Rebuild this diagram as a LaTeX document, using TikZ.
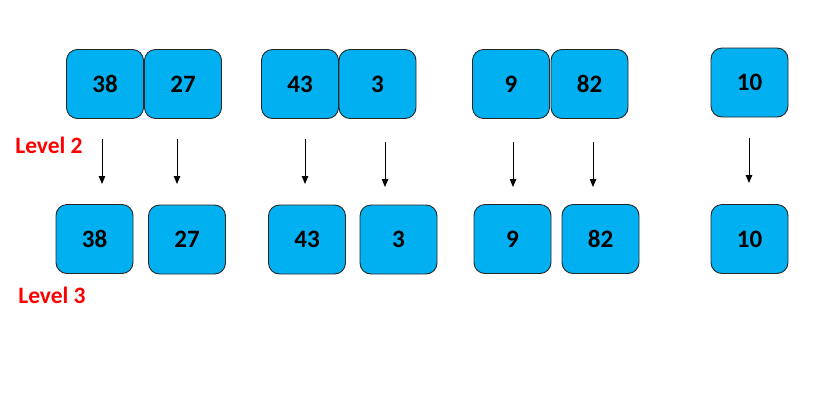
\documentclass[tikz,border=0pt]{standalone}
\usepackage{fontspec}
\setmainfont{Carlito}
\usetikzlibrary{arrows.meta}
\definecolor{cellblue}{HTML}{00B0F0}
\definecolor{levelred}{HTML}{FF0000}
\tikzset{
  cell/.style={draw=black!85, line width=0.9pt, fill=cellblue, rounded corners=11pt,
    minimum width=77pt, minimum height=69pt, inner sep=0pt,
    font=\fontsize{25}{29}\selectfont\bfseries, text=black},
  lvl/.style={font=\fontsize{23.5}{27}\selectfont\bfseries, text=levelred, inner sep=0pt},
  arr/.style={line width=1pt, -{Triangle[width=6.5pt,length=8pt]}}
}
\begin{document}
\begin{tikzpicture}[x=1pt,y=-1pt]
\useasboundingbox (0,0) rectangle (830,408);

% level 2 row
\node[cell] (t38) at (105,84) {38};
\node[cell] (t27) at (183,84) {27};
\node[cell] (t43) at (300,84) {43};
\node[cell] (t3)  at (377.5,84) {3};
\node[cell] (t9)  at (511,84) {9};
\node[cell] (t82) at (589.5,84) {82};
\node[cell] (t10) at (749.5,82.5) {10};

% level 3 row
\node[cell] (b38) at (94.5,239) {38};
\node[cell] (b27) at (187,239.5) {27};
\node[cell] (b43) at (307,239.5) {43};
\node[cell] (b3)  at (398.5,239.5) {3};
\node[cell] (b9)  at (512.5,239) {9};
\node[cell] (b82) at (600.5,239) {82};
\node[cell] (b10) at (749.5,239) {10};

% labels
\node[lvl] (l2) at (49,145) {Level 2};
\node[lvl] (l3) at (52,295) {Level 3};

% split arrows
\coordinate (s38) at (102,139); \coordinate (e38) at (102,184);
\coordinate (s27) at (177,139); \coordinate (e27) at (177,184);
\coordinate (s43) at (305,139); \coordinate (e43) at (305,184);
\coordinate (s3)  at (385,142); \coordinate (e3)  at (385,187);
\coordinate (s9)  at (513,142); \coordinate (e9)  at (513,187);
\coordinate (s82) at (593,142); \coordinate (e82) at (593,187);
\coordinate (s10) at (749,138); \coordinate (e10) at (749,183);
\foreach \k in {38,27,43,3,9,82,10}{
  \draw[arr] (s\k) -- (e\k);
}
\end{tikzpicture}
\end{document}
